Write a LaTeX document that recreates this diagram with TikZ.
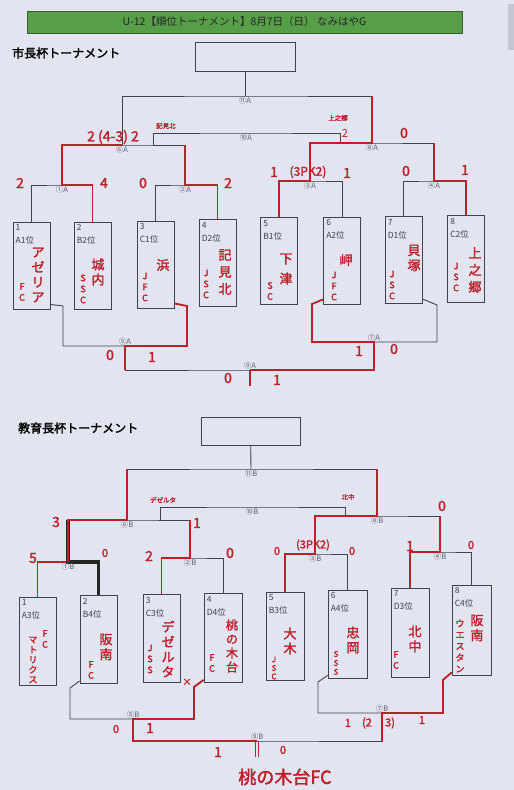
\documentclass[tikz,border=0pt]{standalone}
\usepackage{fontspec}
\setmainfont{Noto Sans CJK JP}[AutoFakeBold=2]
\usetikzlibrary{calc,positioning}
\definecolor{paper}{RGB}{226,229,239}
\definecolor{ink}{RGB}{62,66,78}
\definecolor{pen}{RGB}{188,32,42}
\definecolor{barGreen}{RGB}{86,158,72}
\definecolor{barDark}{RGB}{52,96,46}
\definecolor{labgray}{RGB}{92,96,108}
\definecolor{stripGray}{RGB}{196,199,210}

\begin{document}
\begin{tikzpicture}[x=1pt,y=1pt,
  bline/.style={draw=ink,line width=0.9pt},
  winpath/.style={draw=pen,line width=1.8pt},
  marker/.style={draw=black!85,line width=3.2pt},
  teambox/.style={draw=ink,line width=0.9pt,minimum width=37pt,minimum height=87pt,inner sep=0pt},
  boxtxt/.style={anchor=north west,align=left,inner sep=0pt,text=ink,font=\fontsize{8.5}{13}\selectfont},
  mlab/.style={inner sep=0.5pt,text=labgray,font=\fontsize{7.5}{8}\selectfont},
  tname/.style={text=pen,align=center,inner sep=0pt,font=\fontsize{13}{15}\selectfont\bfseries},
  tsub/.style={text=pen,align=center,inner sep=0pt,font=\fontsize{9}{11}\selectfont\bfseries},
  scr/.style={text=pen,inner sep=0pt,font=\fontsize{14}{14}\selectfont\bfseries},
  tnote/.style={text=pen,inner sep=0pt,font=\fontsize{6.5}{7}\selectfont\bfseries}]
  \useasboundingbox[fill=paper] (0,0) rectangle (514,-790);
  \fill[stripGray] (508,-4) rectangle (514,-50);

  \node[fill=barGreen,draw=barDark,minimum width=435pt,minimum height=22pt,inner sep=0pt,
    text=black!85,font=\fontsize{10.5}{11}\selectfont] (title) at (244.5,-22)
    {U-12【順位トーナメント】8月7日（日）\ なみはやG};

  % 市長杯
  \node[anchor=west,inner sep=0pt,font=\fontsize{12}{12}\selectfont\bfseries] (ttlA) at (12,-53) {市長杯トーナメント};
  \node[draw=ink,line width=0.9pt,minimum width=100pt,minimum height=29pt,inner sep=0pt] (winA) at (245,-56.5) {};

  \node[teambox] (a1) at (31.5,-265.5) {};
  \node[teambox] (a2) at (92.5,-265.5) {};
  \node[teambox] (a3) at (155.5,-264.5) {};
  \node[teambox] (a4) at (217.5,-263) {};
  \node[teambox] (a5) at (279,-261) {};
  \node[teambox] (a6) at (342,-260.5) {};
  \node[teambox] (a7) at (403.5,-260) {};
  \node[teambox] (a8) at (466,-259) {};
  \node[boxtxt] (ta1) at ($(a1.north west)+(3,-3)$) {1\\A1位};
  \node[boxtxt] (ta2) at ($(a2.north west)+(3,-3)$) {2\\B2位};
  \node[boxtxt] (ta3) at ($(a3.north west)+(3,-3)$) {3\\C1位};
  \node[boxtxt] (ta4) at ($(a4.north west)+(3,-3)$) {4\\D2位};
  \node[boxtxt] (ta5) at ($(a5.north west)+(3,-3)$) {5\\B1位};
  \node[boxtxt] (ta6) at ($(a6.north west)+(3,-3)$) {6\\A2位};
  \node[boxtxt] (ta7) at ($(a7.north west)+(3,-3)$) {7\\D1位};
  \node[boxtxt] (ta8) at ($(a8.north west)+(3,-3)$) {8\\C2位};

  \coordinate (m1a) at (62,-185);
  \coordinate (m2a) at (185,-185);
  \coordinate (m3a) at (310,-181);
  \coordinate (m4a) at (434,-181);
  \coordinate (m6a) at (122,-145);
  \coordinate (m8a) at (372,-143);
  \coordinate (m11a) at (245,-96);
  \coordinate (m10a) at (246,-133);
  \coordinate (t10al) at (153,-145);
  \coordinate (t10ar) at (340,-143);
  \coordinate (k5al) at (63,-306);
  \coordinate (k5ar) at (187,-306);
  \coordinate (k7al) at (312,-304);
  \coordinate (k7ar) at (437,-305);
  \coordinate (m5a) at (125,-346);
  \coordinate (m7a) at (374,-342);
  \coordinate (m9a) at (250,-370);
  \coordinate (w9a) at (250,-386);

  \draw[bline] (a1.north) |- (m1a) -| (a2.north);
  \draw[bline] (a3.north) |- (m2a) -| (a4.north);
  \draw[bline] (a5.north) |- (m3a) -| (a6.north);
  \draw[bline] (a7.north) |- (m4a) -| (a8.north);
  \draw[bline] (m1a) |- (m6a) -| (m2a);
  \draw[bline] (m3a) |- (m8a) -| (m4a);
  \draw[bline] (m6a) |- (m11a) -| (m8a);
  \draw[bline] (winA) -- (m11a);
  \draw[bline] (t10al) |- (m10a) -| (t10ar);
  \draw[bline] ([yshift=5pt]a1.south east) -- (k5al) |- (m5a) -| (k5ar) -- ([yshift=5pt]a3.south east);
  \draw[bline] ([yshift=5pt]a6.south west) -- (k7al) |- (m7a) -| (k7ar) -- ([yshift=5pt]a7.south east);
  \draw[bline] (m5a) |- (m9a) -| (m7a);

  \draw[winpath] (a2.north) |- (m1a) |- (m6a);
  \draw[winpath] (a4.north) |- (m2a) -- (m2a |- m6a);
  \draw[winpath] (a5.north) |- (m3a) |- (m8a) -- (m8a |- m11a);
  \draw[winpath] (a8.north) |- (m4a) -- (m4a |- m8a);
  \draw[winpath] ([yshift=5pt]a3.south east) -- (k5ar) |- (m5a) -- (m5a |- m9a);
  \draw[winpath] (m9a) -| (m7a) -| (k7al) -- ([yshift=5pt]a6.south west);
  \draw[winpath] (m9a) -- (w9a);

  \node[mlab,below=0pt of m1a] (l1a) {①A};
  \node[mlab,below=0pt of m2a] (l2a) {②A};
  \node[mlab,below=0pt of m3a] (l3a) {③A};
  \node[mlab,below=0pt of m4a] (l4a) {④A};
  \node[mlab,below=0pt of m6a] (l6a) {⑥A};
  \node[mlab,below=0pt of m8a] (l8a) {⑧A};
  \node[mlab,below=0pt of m10a] (l10a) {⑩A};
  \node[mlab,below=0pt of m11a] (l11a) {⑪A};
  \node[mlab,above=0pt of m5a] (l5a) {⑤A};
  \node[mlab,above=0pt of m7a] (l7a) {⑦A};
  \node[mlab,above=0pt of m9a] (l9a) {⑨A};

  \node[tname] (na1) at (38,-275) {ア\\ゼ\\リ\\ア};
  \node[tsub] (fa1) at (22,-292) {F\\C};
  \node[tname] (na2) at (98,-272) {城\\内};
  \node[tsub] (fa2) at (83,-289) {S\\S\\C};
  \node[tname] (na3) at (163,-265) {浜};
  \node[tsub] (fa3) at (145,-287) {J\\F\\C};
  \node[tname,font=\fontsize{13}{17}\selectfont\bfseries] (na4) at (225,-272) {記\\見\\北};
  \node[tsub] (fa4) at (206,-284) {J\\S\\C};
  \node[tname,font=\fontsize{13}{20}\selectfont\bfseries] (na5) at (286,-269) {下\\津};
  \node[tsub] (fa5) at (270,-291) {S\\C};
  \node[tname] (na6) at (346,-260) {岬};
  \node[tsub] (fa6) at (334,-286) {J\\F\\C};
  \node[tname] (na7) at (414,-258) {貝\\塚};
  \node[tsub] (fa7) at (392,-285) {J\\S\\C};
  \node[tname,font=\fontsize{13}{17}\selectfont\bfseries] (na8) at (475,-270) {上\\之\\郷};
  \node[tsub] (fa8) at (456,-277) {J\\S\\C};

  \node[scr] (sa1) at (20,-183) {2};
  \node[scr] (sa2) at (104,-183) {4};
  \node[scr] (sa3) at (143,-183) {0};
  \node[scr] (sa4) at (228,-183) {2};
  \node[scr,font=\fontsize{14}{14}\selectfont\bfseries] (sa5) at (113,-137) {2 (4-3) 2};
  \node[scr,font=\fontsize{11}{11}\selectfont] (sa6) at (345,-134) {2};
  \node[scr] (sa7) at (404,-133) {0};
  \node[scr] (sa8) at (274,-172) {1};
  \node[scr,font=\fontsize{12}{12}\selectfont\bfseries] (sa9) at (308,-172) {(3PK2)};
  \node[scr] (sa10) at (347,-173) {1};
  \node[scr] (sa11) at (406,-171) {0};
  \node[scr] (sa12) at (465,-170) {1};
  \node[scr] (sa13) at (110,-355) {0};
  \node[scr] (sa14) at (152,-357) {1};
  \node[scr] (sa15) at (359,-351) {1};
  \node[scr] (sa16) at (394,-349) {0};
  \node[scr] (sa17) at (228,-378) {0};
  \node[scr] (sa18) at (277,-380) {1};
  \node[tnote] (ntA1) at (166,-126) {記見北};
  \node[tnote] (ntA2) at (338,-118) {上之郷};

  % 教育長杯
  \node[anchor=west,inner sep=0pt,font=\fontsize{12}{12}\selectfont\bfseries] (ttlB) at (18,-428) {教育長杯トーナメント};
  \node[draw=ink,line width=0.9pt,minimum width=99pt,minimum height=28pt,inner sep=0pt] (winB) at (250.5,-431) {};

  \node[teambox,minimum height=88pt] (b1) at (37.5,-641) {};
  \node[teambox,minimum height=88pt] (b2) at (98.5,-639.5) {};
  \node[teambox,minimum height=88pt] (b3) at (161.5,-638.5) {};
  \node[teambox,minimum height=89pt,minimum width=38pt] (b4) at (223,-638) {};
  \node[teambox,minimum height=88pt,minimum width=38pt] (b5) at (285,-636) {};
  \node[teambox,minimum height=88pt,minimum width=39pt] (b6) at (347.5,-634) {};
  \node[teambox,minimum height=89pt,minimum width=38pt] (b7) at (410,-632.5) {};
  \node[teambox,minimum height=90pt,minimum width=39pt] (b8) at (471.5,-630) {};
  \node[boxtxt] (tb1) at ($(b1.north west)+(3,-3)$) {1\\A3位};
  \node[boxtxt] (tb2) at ($(b2.north west)+(3,-3)$) {2\\B4位};
  \node[boxtxt] (tb3) at ($(b3.north west)+(3,-3)$) {3\\C3位};
  \node[boxtxt] (tb4) at ($(b4.north west)+(3,-3)$) {4\\D4位};
  \node[boxtxt] (tb5) at ($(b5.north west)+(3,-3)$) {5\\B3位};
  \node[boxtxt] (tb6) at ($(b6.north west)+(3,-3)$) {6\\A4位};
  \node[boxtxt] (tb7) at ($(b7.north west)+(3,-3)$) {7\\D3位};
  \node[boxtxt] (tb8) at ($(b8.north west)+(3,-3)$) {8\\C4位};

  \coordinate (m1b) at (68,-562);
  \coordinate (m2b) at (190,-558);
  \coordinate (m3b) at (315,-554);
  \coordinate (m4b) at (440,-552);
  \coordinate (m6b) at (127,-520);
  \coordinate (m8b) at (377,-516);
  \coordinate (m11b) at (251,-469);
  \coordinate (m10b) at (252,-507);
  \coordinate (t10bl) at (160,-520);
  \coordinate (t10br) at (345,-516);
  \coordinate (k5bl) at (70,-688);
  \coordinate (k5br) at (194,-687);
  \coordinate (k7bl) at (318,-682);
  \coordinate (k7br) at (443,-680);
  \coordinate (m5b) at (133,-719);
  \coordinate (m7b) at (382,-713);
  \coordinate (m9b) at (257,-741);
  \coordinate (w9b) at (257,-757);

  \draw[bline] (b1.north) |- (m1b) -| (b2.north);
  \draw[bline] (b3.north) |- (m2b) -| (b4.north);
  \draw[bline] (b5.north) |- (m3b) -| (b6.north);
  \draw[bline] (b7.north) |- (m4b) -| (b8.north);
  \draw[bline] (m1b) |- (m6b) -| (m2b);
  \draw[bline] (m3b) |- (m8b) -| (m4b);
  \draw[bline] (m6b) |- (m11b) -| (m8b);
  \draw[bline] (winB) -- (m11b);
  \draw[bline] (t10bl) |- (m10b) -| (t10br);
  \draw[bline] ([yshift=3pt]b2.south west) -- (k5bl) |- (m5b) -| (k5br) -- ([yshift=3pt]b4.south west);
  \draw[bline] ([yshift=3pt]b6.south west) -- (k7bl) |- (m7b) -| (k7br) -- ([yshift=3pt]b8.south west);
  \draw[bline] (m5b) |- (m9b) -| (m7b);

  \draw[winpath] (b1.north) |- (m1b);
  \draw[marker] (b2.north) |- (m1b) -- (m1b |- m6b);
  \draw[winpath] (m1b) |- (m6b) -- (m6b |- m11b);
  \draw[winpath] (b3.north) |- (m2b) -- (m2b |- m6b);
  \draw[winpath] (b5.north) |- (m3b) |- (m8b) -- (m8b |- m11b);
  \draw[winpath] (b7.north) |- (m4b) -- (m4b |- m8b);
  \draw[winpath] ([yshift=3pt]b4.south west) -- (k5br) |- (m5b) |- (m9b);
  \draw[winpath] ([yshift=3pt]b8.south west) -- (k7br) |- (m7b) -- (m7b |- m9b);
  \draw[draw=pen,line width=1.2pt] ([xshift=-1.5pt]m9b) -- ([xshift=-1.5pt]w9b);
  \draw[draw=pen,line width=1.2pt] ([xshift=1.5pt]m9b) -- ([xshift=1.5pt]w9b);

  \node[mlab,below=0pt of m1b] (l1b) {①B};
  \node[mlab,below=0pt of m2b] (l2b) {②B};
  \node[mlab,below=0pt of m3b] (l3b) {③B};
  \node[mlab,below=0pt of m4b] (l4b) {④B};
  \node[mlab,below=0pt of m6b] (l6b) {⑥B};
  \node[mlab,below=0pt of m8b] (l8b) {⑧B};
  \node[mlab,below=0pt of m10b] (l10b) {⑩B};
  \node[mlab,below=0pt of m11b] (l11b) {⑪B};
  \node[mlab,above=0pt of m5b] (l5b) {⑤B};
  \node[mlab,above=0pt of m7b] (l7b) {⑦B};
  \node[mlab,above=0pt of m9b] (l9b) {⑨B};

  \node[tsub] (fb1) at (45,-639) {F\\C};
  \node[tsub,font=\fontsize{9}{10}\selectfont\bfseries] (nb1) at (33,-660) {マ\\ト\\リ\\ク\\ス};
  \node[tname] (nb2) at (106,-647) {阪\\南};
  \node[tsub] (fb2) at (91,-670) {F\\C};
  \node[tname] (nb3) at (168,-649) {デ\\ゼ\\ル\\タ};
  \node[tsub] (fb3) at (150,-659) {J\\S\\S};
  \node[tname,font=\fontsize{12}{14}\selectfont\bfseries] (nb4) at (232,-646) {桃\\の\\木\\台};
  \node[tsub] (fb4) at (212,-663) {F\\C};
  \node[tname] (nb5) at (290,-641) {大\\木};
  \node[tsub,font=\fontsize{8}{8.5}\selectfont\bfseries] (fb5) at (274,-668) {J\\S\\C};
  \node[tname] (nb6) at (353,-640) {忠\\岡};
  \node[tsub,font=\fontsize{8}{9}\selectfont\bfseries] (fb6) at (336,-663) {S\\S\\S};
  \node[tname] (nb7) at (415,-639) {北\\中};
  \node[tsub] (fb7) at (396,-660) {F\\C};
  \node[tname] (nb8) at (477,-628) {阪\\南};
  \node[tsub,font=\fontsize{9}{11.4}\selectfont\bfseries] (fb8) at (460,-646) {ウ\\エ\\ス\\タ\\ン};

  \node[scr] (sb1) at (56,-522) {3};
  \node[scr] (sb2) at (197,-523) {1};
  \node[scr] (sb3) at (442,-506) {0};
  \node[scr] (sb4) at (33,-558) {5};
  \node[scr,font=\fontsize{11}{11}\selectfont\bfseries] (sb5) at (105,-553) {0};
  \node[scr] (sb6) at (149,-556) {2};
  \node[scr] (sb7) at (230,-553) {0};
  \node[scr,font=\fontsize{11}{11}\selectfont\bfseries] (sb8) at (277,-551) {0};
  \node[scr,font=\fontsize{11}{11}\selectfont\bfseries] (sb9) at (313,-545) {(3PK2)};
  \node[scr,font=\fontsize{11}{11}\selectfont\bfseries] (sb10) at (352,-551) {0};
  \node[scr] (sb11) at (410,-546) {1};
  \node[scr,font=\fontsize{11}{11}\selectfont\bfseries] (sb12) at (471,-545) {0};
  \node[scr,font=\fontsize{11}{11}\selectfont\bfseries] (sb13) at (116,-729) {0};
  \node[scr] (sb14) at (150,-728) {1};
  \node[scr] (sb15) at (218,-752) {1};
  \node[scr,font=\fontsize{11}{11}\selectfont\bfseries] (sb16) at (283,-750) {0};
  \node[scr,font=\fontsize{11}{11}\selectfont\bfseries] (sb17) at (348,-723) {1};
  \node[scr,font=\fontsize{11}{11}\selectfont\bfseries] (sb18) at (367,-723) {(2};
  \node[scr,font=\fontsize{11}{11}\selectfont\bfseries] (sb19) at (390,-723) {3)};
  \node[scr,font=\fontsize{11}{11}\selectfont\bfseries] (sb20) at (422,-720) {1};
  \node[scr,font=\fontsize{9}{9}\selectfont\bfseries] (xmark) at (187,-682) {×};
  \node[tnote] (ntB1) at (163,-500) {デゼルタ};
  \node[tnote] (ntB2) at (348,-497) {北中};
  \node[scr,font=\fontsize{18}{18}\selectfont\bfseries] (champ) at (285,-777) {桃の木台FC};
\end{tikzpicture}
\end{document}
